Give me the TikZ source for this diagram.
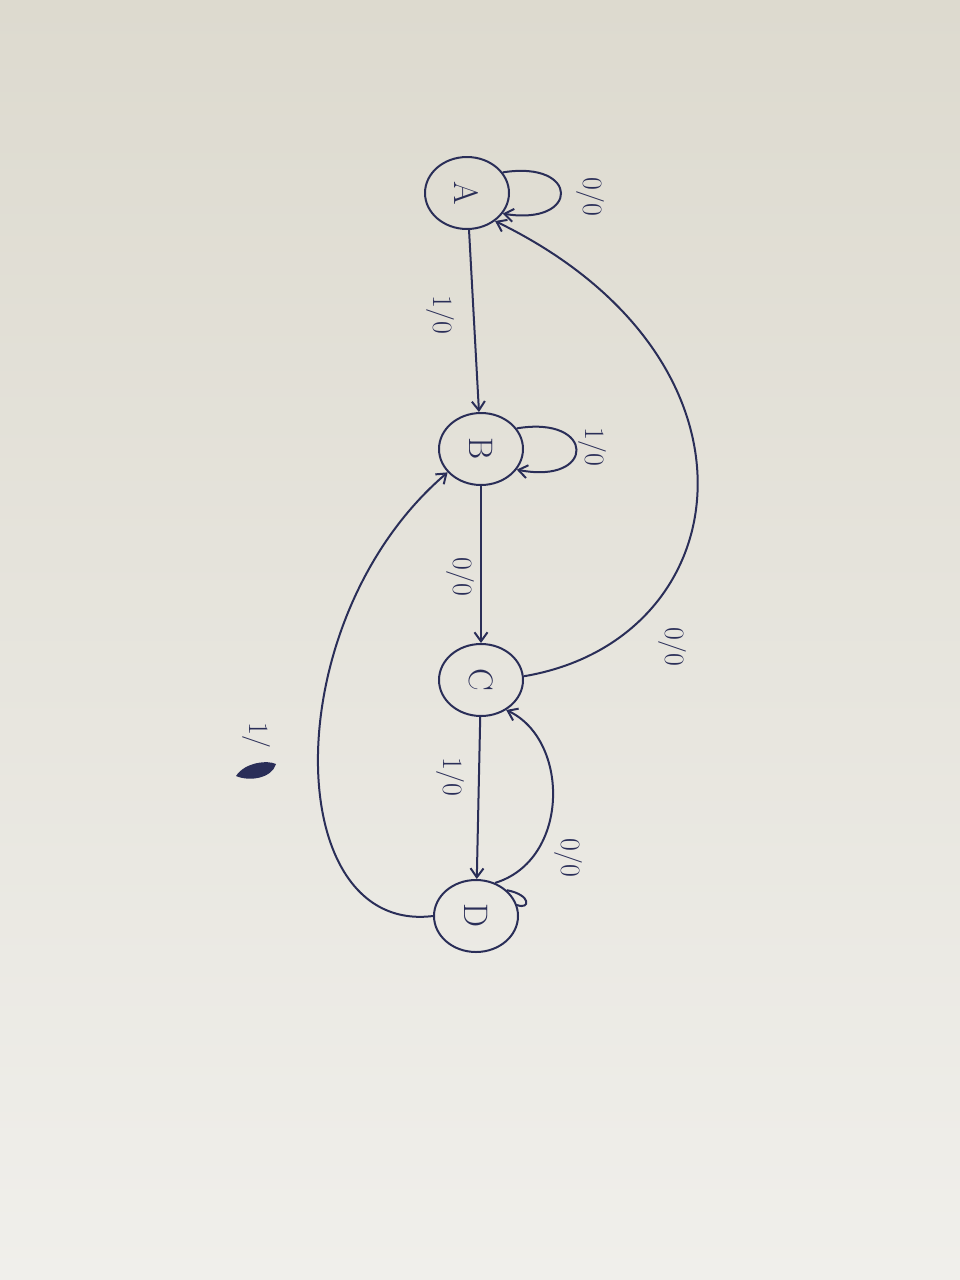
\documentclass[tikz,border=0pt]{standalone}
\usetikzlibrary{arrows.meta,shapes.geometric}
\definecolor{pen}{RGB}{42,46,88}
\definecolor{papertop}{RGB}{221,218,207}
\definecolor{paperlow}{RGB}{240,239,235}
\begin{document}
\begin{tikzpicture}[x=1pt,y=-1pt,line width=2pt,
  state/.style={draw=pen,ellipse,minimum width=84pt,minimum height=72pt,inner sep=0pt,
    text=pen,font=\fontsize{34}{38}\selectfont},
  lbl/.style={text=pen,rotate=-90,font=\fontsize{28}{30}\selectfont},
  arr/.style={draw=pen,-{Straight Barb[length=9pt,width=13pt]}}]
% paper
\useasboundingbox (0,0) rectangle (960,1280);
\shade[top color=papertop,bottom color=paperlow] (0,0) rectangle (960,1280);

% States (drawn on their side)
\node[state] (A) at (467,193) {\rotatebox{-90}{A}};
\node[state] (B) at (481,449) {\rotatebox{-90}{B}};
\node[state] (C) at (481,680) {\rotatebox{-90}{C}};
\node[state] (D) at (476,916) {\rotatebox{-90}{D}};

% Self loops
\draw[arr] (A.30) .. controls (580,160) and (580,226) .. (A.-30);
\draw[arr] (B.30) .. controls (596,415) and (596,485) .. (B.-30);

% Straight transitions
\draw[arr] (A) -- (B);
\draw[arr] (B) -- (C);
\draw[arr] (C) -- (D);

% Curved transitions
\draw[arr] (C.5) .. controls (740,640) and (780,360) .. (A.-45);
\draw[arr] (D.60) .. controls (570,860) and (570,740) .. (C.-50);
\draw[arr] (D.west) .. controls (280,935) and (275,620) .. (B.215);
\draw[pen] (D.40) .. controls (532,895) and (530,910) .. (D.15);

% Labels
\node[lbl] (lAA) at (590,197) {0/0};
\node[lbl] (lAB) at (440,315) {1/0};
\node[lbl] (lBB) at (592,447) {1/0};
\node[lbl] (lBC) at (460,577) {0/0};
\node[lbl] (lCA) at (672,647) {0/0};
\node[lbl] (lCD) at (450,777) {1/0};
\node[lbl] (lDC) at (568,858) {0/0};
\node[lbl] (lDB) at (256,735) {1/};
% scribbled out
\fill[pen] (236,776) .. controls (245,762) and (268,760) .. (276,764)
  .. controls (272,778) and (250,782) .. (236,776) -- cycle;
\end{tikzpicture}
\end{document}
